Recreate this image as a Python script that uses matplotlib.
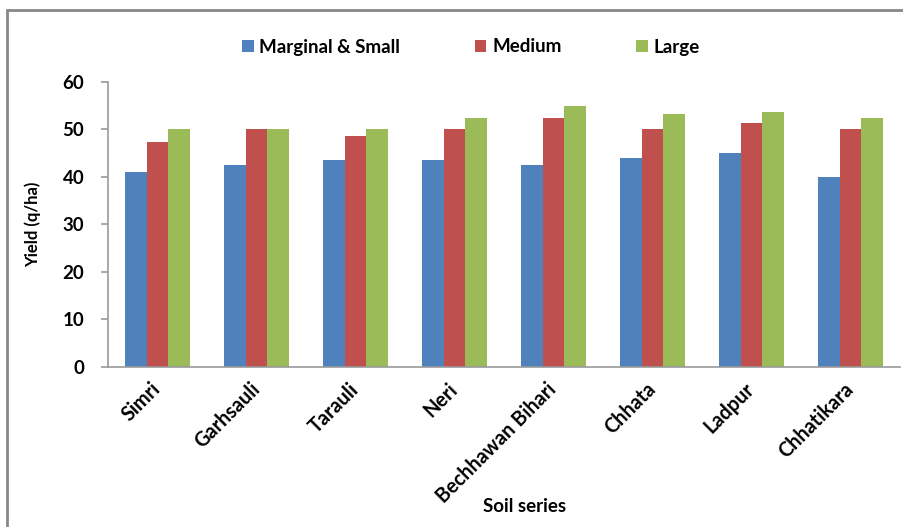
import numpy as np
import matplotlib
matplotlib.use('Agg')
import matplotlib.pyplot as plt
import matplotlib.transforms as mtransforms
from matplotlib.patches import Rectangle

# Data
soil_series = ['Simri', 'Garhsauli', 'Tarauli', 'Neri', 'Bechhawan Bihari',
               'Chhata', 'Ladpur', 'Chhatikara']
marginal_small = [41.0, 42.4, 43.5, 43.5, 42.4, 44.0, 44.9, 39.9]
medium = [47.4, 50.0, 48.6, 50.0, 52.3, 50.0, 51.2, 50.0]
large = [50.0, 50.0, 50.0, 52.3, 54.8, 53.2, 53.7, 52.3]
series_names = ['Marginal & Small', 'Medium', 'Large']
colors = ['#4F81BD', '#C0504D', '#9BBB59']
y_ticks = [0, 10, 20, 30, 40, 50, 60]

plt.rcParams['font.family'] = ['Lato', 'DejaVu Sans']
FS = 13.5

W, H = 904, 527
fig = plt.figure(figsize=(W / 100, H / 100), dpi=100)
ax = fig.add_axes([108 / W, (H - 366.7) / H, 792 / W, 285 / H])

x = np.arange(len(soil_series))
bw = 0.217
bars = []
for i, (vals, name, c) in enumerate(zip([marginal_small, medium, large], series_names, colors)):
    b = ax.bar(x + (i - 1) * bw, vals, width=bw, color=c, label=name, zorder=2)
    bars.append(b)

ax.set_xlim(-0.5, len(soil_series) - 0.5)
ax.set_ylim(0, 60)
ax.set_yticks(y_ticks)
ax.set_yticklabels([str(t) for t in y_ticks], fontsize=FS, fontweight='bold')
ax.set_xticks(x)
ax.set_xticklabels(soil_series, rotation=45, ha='right', va='center',
                   rotation_mode='anchor', fontsize=FS + 0.8, fontweight='bold')
# nudge the rotated labels a bit to the right, like the original
shift = mtransforms.ScaledTranslation(7 / 100, 0, fig.dpi_scale_trans)
for lbl in ax.get_xticklabels():
    lbl.set_transform(lbl.get_transform() + shift)

for s in ['top', 'right']:
    ax.spines[s].set_visible(False)
for s in ['left', 'bottom']:
    ax.spines[s].set_color('#999999')
    ax.spines[s].set_linewidth(1.2)
ax.tick_params(axis='y', length=5, color='#999999', width=1.2, pad=12)
ax.tick_params(axis='x', length=0, pad=14)

fig.legend(handles=bars, labels=series_names, loc='center',
           bbox_to_anchor=(471 / W, 1 - 47 / H), ncol=3, frameon=False,
           prop={'weight': 'bold', 'size': FS},
           handlelength=0.6, handleheight=0.6, handletextpad=0.3,
           columnspacing=4.0)

fig.text(525 / W, 1 - 507 / H, 'Soil series', ha='center', va='center',
         fontsize=FS, fontweight='bold')
fig.text(33 / W, 1 - 224 / H, 'Yield (q/ha)', ha='center', va='center',
         rotation=90, fontsize=FS - 1.5, fontweight='bold')

# outer chart frame (only top and left edges visible in the crop)
fig.add_artist(Rectangle((7 / W, -0.1), 1.2, 1 - 10 / H + 0.1,
                         transform=fig.transFigure, fill=False,
                         edgecolor='#888888', linewidth=2))

fig.savefig('out.png', dpi=100)
